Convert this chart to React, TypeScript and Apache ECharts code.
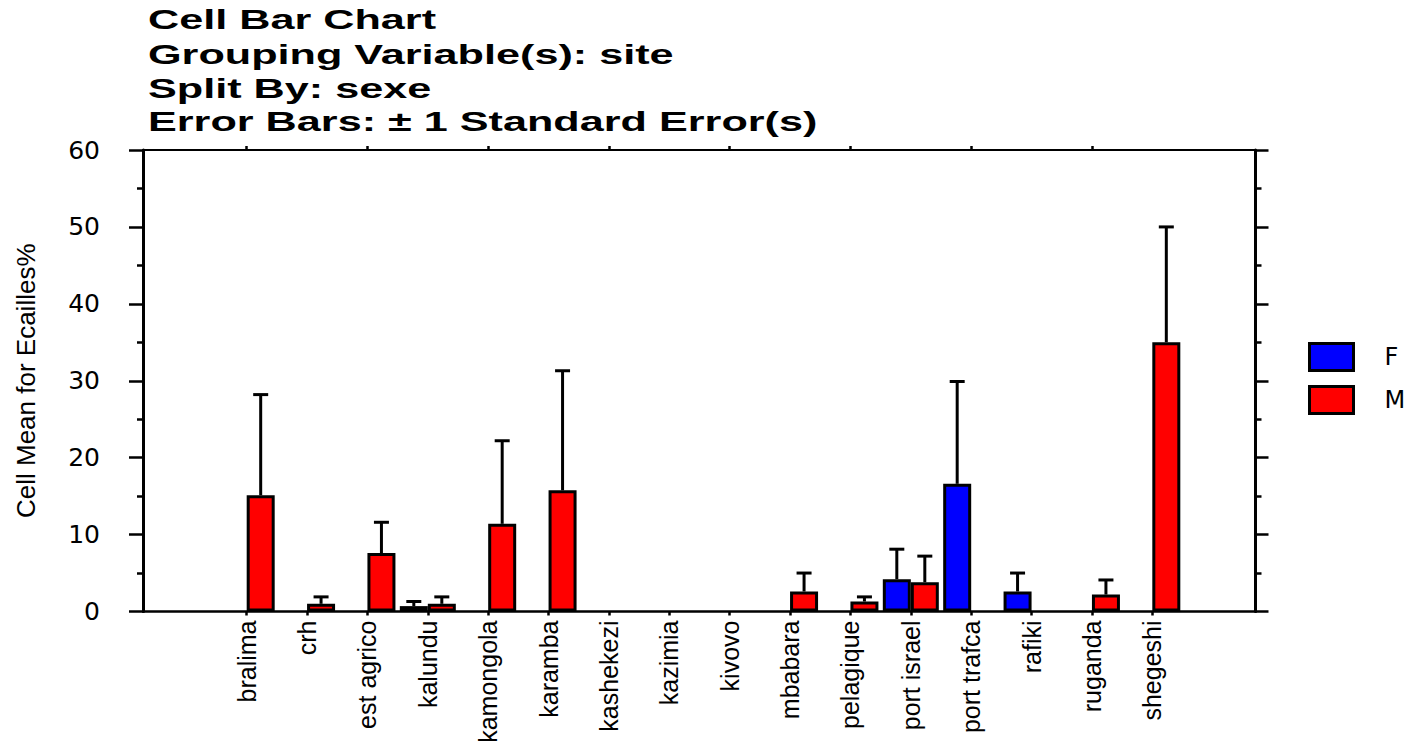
import React, { useEffect, useRef } from "react";
import * as echarts from "echarts";

const titleLines = [
  "Cell Bar Chart",
  "Grouping Variable(s): site",
  "Split By: sexe",
  "Error Bars: \u00b1 1 Standard Error(s)",
];
const categories = [
  "bralima", "crh", "est agrico", "kalundu", "kamongola", "karamba", "kashekezi", "kazimia",
  "kivovo", "mbabara", "pelagique", "port israel", "port trafca", "rafiki", "ruganda", "shegeshi",
];
const seriesNames = ["F", "M"];
const meanF = [null, null, null, 0.7, null, null, null, null, null, null, null, 4.2, 16.6, 2.6, null, null];
const seF = [null, null, null, 0.6, null, null, null, null, null, null, null, 3.9, 13.3, 2.4, null, null];
const meanM = [15.1, 1.0, 7.6, 1.0, 11.4, 15.75, null, null, null, 2.6, 1.3, 3.8, null, null, 2.2, 35.0];
const seM = [13.1, 0.9, 4.0, 0.9, 10.8, 15.55, null, null, null, 2.4, 0.6, 3.4, null, null, 1.9, 15.0];
const yMin = 0;
const yMax = 60;
const yInterval = 10;
const yAxisTitle = "Cell Mean for Ecailles%";

const BAR_W = 28;
const COLORS = ["#0000ff", "#ff0000"];

function errData(means: (number | null)[], ses: (number | null)[]) {
  const out: number[][] = [];
  means.forEach((m, i) => {
    const s = ses[i];
    if (m != null && s != null) out.push([i, m, s]);
  });
  return out;
}

function errSeries(name: string, means: (number | null)[], ses: (number | null)[], offset: number) {
  return {
    type: "custom",
    name: name + "_err",
    xAxisIndex: 2,
    yAxisIndex: 2,
    z: 5,
    silent: true,
    data: errData(means, ses),
    encode: { x: 0, y: 1 },
    renderItem: (params: any, api: any) => {
      const idx = api.value(0);
      const m = api.value(1);
      const s = api.value(2);
      const p0 = api.coord([idx, m]);
      const p1 = api.coord([idx, m + s]);
      const x = p0[0] + offset;
      return {
        type: "group",
        children: [
          {
            type: "line",
            shape: { x1: x, y1: p0[1], x2: x, y2: p1[1] },
            style: { stroke: "#000", lineWidth: 3 },
          },
          {
            type: "line",
            shape: { x1: x - 7.5, y1: p1[1], x2: x + 7.5, y2: p1[1] },
            style: { stroke: "#000", lineWidth: 3 },
          },
        ],
      };
    },
  };
}

export default function App() {
  const ref = useRef<HTMLDivElement>(null);
  useEffect(() => {
    if (!ref.current) return;
    const chart = echarts.init(ref.current, null, { renderer: "svg" });
    const plotTop = 150;
    const plotBottom = 748 - 611.5;
    const option: any = {
      animation: false,
      backgroundColor: "#fff",
      graphic: titleLines.map((t, i) => ({
        type: "text",
        x: 148,
        y: [20, 55, 89, 122][i],
        scaleX: 1.6,
        style: {
          text: t,
          fill: "#000",
          font: 'bold 27px "Liberation Sans", Arial, sans-serif',
          textAlign: "left",
          textVerticalAlign: "middle",
        },
      })),
      legend: {
        data: seriesNames,
        orient: "vertical",
        left: 1308,
        top: 342,
        padding: 0,
        itemWidth: 44,
        itemHeight: 27,
        itemGap: 13,
        icon: "rect",
        itemStyle: { borderColor: "#000", borderWidth: 3 },
        textStyle: {
          fontFamily: '"DejaVu Sans", sans-serif',
          fontSize: 24,
          color: "#000",
          padding: [0, 0, 0, 26],
        },
      },
      grid: [
        { left: 143, right: 1427 - 1255.5, top: plotTop, bottom: plotBottom },
        { left: 216.5, right: 1427 - 1182.5, top: plotTop, bottom: plotBottom },
      ],
      xAxis: [
        {
          gridIndex: 0, type: "value", min: 0, max: 1, position: "bottom",
          axisLine: { show: true, onZero: false, lineStyle: { color: "#000", width: 2.5 } },
          axisTick: { show: false }, axisLabel: { show: false }, splitLine: { show: false },
        },
        {
          gridIndex: 0, type: "value", min: 0, max: 1, position: "top",
          axisLine: { show: true, onZero: false, lineStyle: { color: "#000", width: 2 } },
          axisTick: { show: false }, axisLabel: { show: false }, splitLine: { show: false },
        },
        {
          gridIndex: 1, type: "category", data: categories, position: "bottom",
          axisLine: { show: false, onZero: false },
          axisTick: { show: true, alignWithLabel: true, length: 4, lineStyle: { color: "#000", width: 2.5 } },
          axisLabel: {
            rotate: 90, margin: 9, interval: 0, color: "#000",
            fontFamily: '"Liberation Sans", Arial, sans-serif', fontSize: 25,
          },
          splitLine: { show: false },
        },
        {
          gridIndex: 1, type: "category", data: categories, position: "top",
          axisLine: { show: false, onZero: false },
          axisTick: { show: true, alignWithLabel: true, length: 4, lineStyle: { color: "#000", width: 2.5 } },
          axisLabel: { show: false },
          splitLine: { show: false },
        },
      ],
      yAxis: [
        {
          gridIndex: 0, type: "value", min: yMin, max: yMax, interval: yInterval, position: "left",
          name: yAxisTitle, nameLocation: "middle", nameRotate: 90, nameGap: 104,
          nameTextStyle: { fontFamily: '"Liberation Sans", Arial, sans-serif', fontSize: 26, color: "#000" },
          axisLine: { show: true, onZero: false, lineStyle: { color: "#000", width: 3 } },
          axisTick: { show: true, inside: false, length: 14, lineStyle: { color: "#000", width: 2.5 } },
          minorTick: { show: true, splitNumber: 2, length: 6, lineStyle: { color: "#000", width: 2.5 } },
          axisLabel: {
            margin: 43, color: "#000",
            fontFamily: '"DejaVu Sans", sans-serif', fontSize: 25,
          },
          splitLine: { show: false },
        },
        {
          gridIndex: 0, type: "value", min: yMin, max: yMax, interval: yInterval, position: "right",
          axisLine: { show: true, onZero: false, lineStyle: { color: "#000", width: 3 } },
          axisTick: { show: true, inside: false, length: 13, lineStyle: { color: "#000", width: 2.5 } },
          minorTick: { show: true, splitNumber: 2, length: 6, lineStyle: { color: "#000", width: 2.5 } },
          axisLabel: { show: false },
          splitLine: { show: false },
        },
        {
          gridIndex: 1, type: "value", min: yMin, max: yMax, interval: yInterval, show: false,
          splitLine: { show: false },
        },
      ],
      series: [
        {
          type: "bar", name: seriesNames[0], xAxisIndex: 2, yAxisIndex: 2,
          data: meanF, barWidth: BAR_W, barGap: "0%",
          itemStyle: { color: COLORS[0], borderColor: "#000", borderWidth: 3 },
        },
        {
          type: "bar", name: seriesNames[1], xAxisIndex: 2, yAxisIndex: 2,
          data: meanM, barWidth: BAR_W, barGap: "0%",
          itemStyle: { color: COLORS[1], borderColor: "#000", borderWidth: 3 },
        },
        errSeries("F", meanF, seF, -BAR_W / 2),
        errSeries("M", meanM, seM, BAR_W / 2),
      ],
    };
    chart.setOption(option);
    return () => chart.dispose();
  }, []);
  return (
    <div
      ref={ref}
      style={{ position: "fixed", left: 0, top: 0, width: 1427, height: 748, background: "#fff" }}
    />
  );
}
